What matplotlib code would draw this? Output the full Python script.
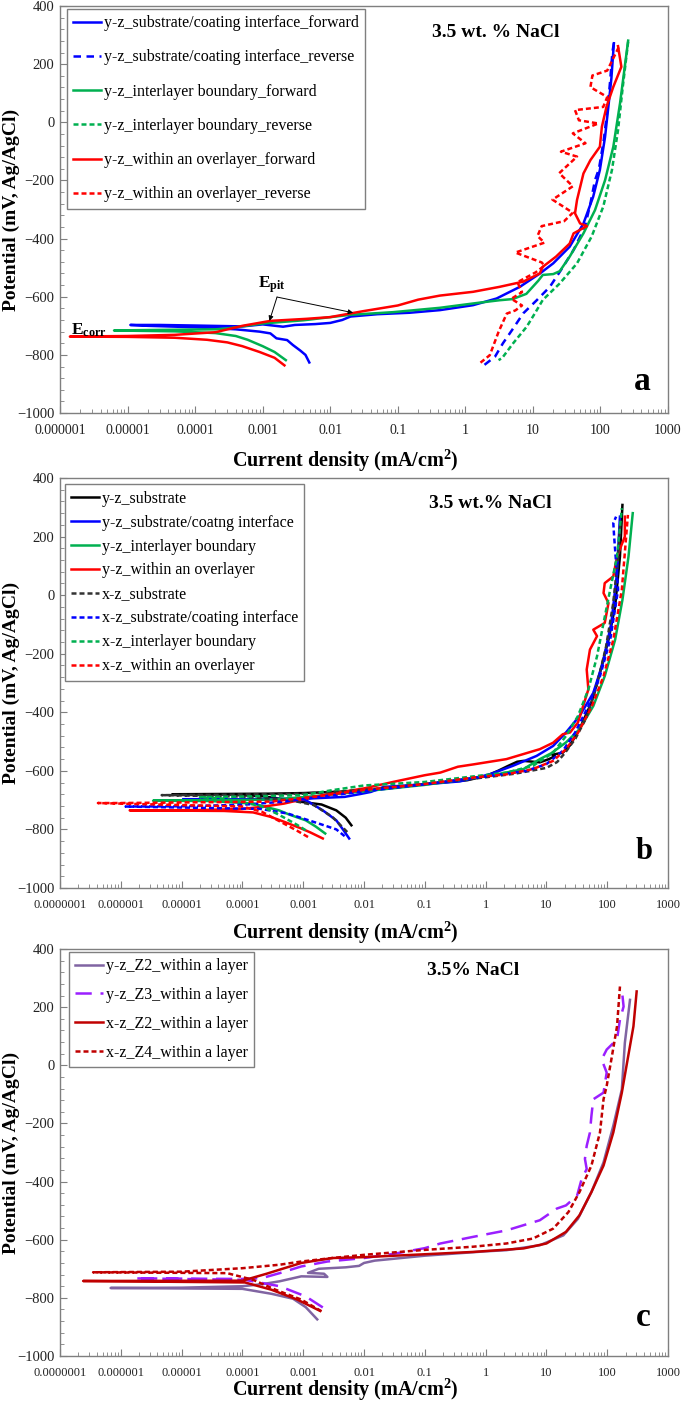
# polarization.py

import numpy as np
from matplotlib import pyplot as plt
from matplotlib.ticker import LogLocator, MultipleLocator, NullFormatter

# ---------------- panel a : y-z sections, forward / reverse scans ----------------
a_blue_fwd_i = [0.0049, 0.0043, 0.0036, 0.0028, 0.0023, 0.0016, 0.0013, 0.0009, 0.0004,
                0.0001, 2e-5, 1.1e-5, 3e-5, 1e-4, 5e-4, 0.001, 0.002, 0.003, 0.006, 0.01,
                0.015, 0.02, 0.05, 0.15, 0.42, 1.3, 2.9, 6.4, 12.7, 20, 35, 56, 78, 98,
                117, 131, 145, 158]
a_blue_fwd_e = [-826, -800, -785, -766, -749, -743, -726, -720, -712, -705, -700, -697,
                -697, -699, -702, -695, -703, -697, -694, -690, -680, -668, -660, -655,
                -646, -629, -606, -566, -520, -485, -428, -348, -256, -164, -50, 54, 150, 272]
a_blue_rev_i = [158, 150, 140, 128, 112, 95, 83, 71, 59, 40, 28, 17.8, 11.5, 7.2, 4.9,
                3.6, 2.75, 1.9]
a_blue_rev_e = [272, 240, 150, 50, -60, -160, -199, -279, -359, -439, -497, -566, -611,
                -657, -715, -760, -806, -835]
a_green_fwd_i = [0.0022, 0.0015, 0.001, 0.0006, 0.0004, 0.0002, 5e-5, 6.3e-6, 3e-5, 2e-4,
                 3e-4, 0.001, 0.004, 0.02, 0.085, 0.42, 0.83, 1.66, 3.2, 5.0, 8.0, 12, 14,
                 20, 25, 35, 56, 83, 117, 155, 195, 229, 257]
a_green_fwd_e = [-818, -790, -770, -748, -735, -725, -719, -716, -714, -712, -709, -692,
                 -681, -662, -653, -638, -629, -620, -612, -608, -590, -545, -525, -522,
                 -512, -462, -382, -302, -199, -84, 66, 191, 281]
a_green_rev_i = [257, 214, 182, 148, 110, 74, 45, 25, 14, 10.7, 8.1, 5.1, 3.5, 3.1]
a_green_rev_e = [277, 122, -27, -164, -290, -393, -485, -554, -611, -657, -703, -760,
                 -811, -818]
a_red_fwd_i = [0.0021, 0.0015, 0.0009, 0.0005, 0.0003, 0.00015, 5e-5, 1e-5, 1.4e-6, 1e-5,
               5e-5, 2e-4, 5e-4, 0.0013, 0.0044, 0.01, 0.03, 0.1, 0.2, 0.42, 1.3, 3.2, 7.2,
               12.6, 14, 22, 35, 40, 63, 50, 42, 45, 56, 71, 98, 105, 123, 155, 204, 182]
a_red_fwd_e = [-836, -810, -790, -770, -757, -748, -741, -738, -737, -735, -731, -722,
               -700, -683, -676, -670, -650, -630, -610, -596, -583, -566, -548, -520,
               -497, -462, -417, -382, -357, -348, -313, -267, -176, -130, -84, -15, 54,
               122, 191, 262]
a_red_rev_i = [186, 126, 76, 71, 126, 110, 42, 48, 93, 39, 60, 26, 45, 24.5, 39, 19.5,
               39, 29, 13.5, 11.7, 14.8, 5.5, 13.5, 14.8, 11, 5.9, 6.9, 4.8, 6.9, 5.5, 4.1,
               3.1, 2.3, 1.55]
a_red_rev_e = [258, 178, 161, 121, 87, 53, 42, 7, -4, -38, -72, -101, -118, -175, -220,
               -266, -311, -340, -357, -391, -414, -448, -482, -493, -516, -550, -584,
               -607, -630, -647, -658, -721, -801, -833]

# ---------------- panel b : y-z (solid) and x-z (dashed) sections ----------------
b_black_yz_i = [0.0062, 0.005, 0.0035, 0.0028, 0.002, 0.0011, 6e-4, 2e-4, 5e-5, 7e-6,
                5e-5, 3e-4, 0.001, 0.01, 0.1, 0.5, 1.0, 1.6, 2.3, 3.3, 4.2, 7.8, 11, 13.8,
                12.5, 18.6, 24, 35, 55, 76, 105, 135, 162, 178]
b_black_yz_e = [-786, -760, -735, -727, -715, -708, -700, -686, -681, -680, -679, -678,
                -676, -668, -645, -632, -618, -600, -584, -569, -566, -571, -560, -550,
                -545, -538, -515, -458, -367, -265, -152, -38, 132, 308]
b_blue_yz_i = [0.0057, 0.0045, 0.0035, 0.0021, 0.0011, 3e-4, 1.07e-5, 1e-4, 0.0011, 0.0048,
               0.0083, 0.013, 0.021, 0.1, 0.38, 1.17, 2.8, 6.9, 12.9, 21, 35, 59, 85, 117,
               145, 162]
b_blue_yz_e = [-831, -800, -769, -735, -700, -697, -697, -697, -695, -689, -680, -672,
               -655, -646, -636, -612, -583, -549, -515, -469, -413, -334, -231, -95, 76, 268]
b_green_yz_i = [0.0023, 0.0016, 0.0011, 6e-4, 4e-4, 1.5e-4, 3e-5, 3.4e-6, 3e-5, 3e-4, 0.001,
                0.01, 0.1, 1.17, 4.2, 7.8, 12, 21, 35, 59, 91, 135, 178, 224, 263]
b_green_yz_e = [-814, -790, -769, -750, -735, -712, -703, -702, -701, -698, -690, -670,
                -648, -617, -594, -560, -540, -503, -458, -379, -277, -152, -16, 132, 280]
b_red_yz_i = [0.0021, 0.0013, 9.3e-4, 5e-4, 2.9e-4, 1.5e-4, 5e-5, 1.4e-6, 2e-5, 1e-4,
              2.1e-4, 4.8e-4, 0.0011, 0.0029, 0.01, 0.03, 0.1, 0.18, 0.35, 0.63, 2.2, 7.8,
              12.9, 18.6, 24.5, 33, 49, 46, 52, 68, 59, 91, 105, 87, 91, 126, 145, 195, 195]
b_red_yz_e = [-831, -810, -797, -775, -757, -742, -737, -735, -734, -730, -723, -712, -695,
              -678, -660, -638, -615, -606, -586, -578, -560, -526, -504, -475, -469, -435,
              -322, -254, -186, -140, -118, -95, -27, 7, 41, 64, 132, 200, 268]
b_black_xz_i = [0.0053, 0.003, 0.0015, 6e-4, 1e-4, 4.7e-6, 5e-5, 0.001, 0.01, 0.1, 1, 3, 10,
                15, 20, 30, 45, 65, 95, 125, 150, 165]
b_black_xz_e = [-809, -757, -717, -700, -688, -683, -682, -678, -665, -645, -622, -610,
                -590, -570, -540, -490, -420, -320, -180, -30, 120, 255]
b_blue_xz_i = [0.0048, 0.0035, 0.0018, 5.6e-4, 2e-4, 1.2e-6, 1e-5, 1e-4, 5e-4, 0.002, 0.01,
               0.1, 1.17, 4.7, 10, 18.6, 29.5, 49, 76, 112, 151, 130, 126, 140]
b_blue_xz_e = [-823, -800, -780, -746, -730, -722, -721, -716, -705, -688, -670, -646,
               -617, -600, -577, -532, -470, -379, -277, -152, 19, 200, 246, 268]
b_green_xz_i = [0.0011, 8e-4, 4e-4, 2e-4, 5e-5, 2e-5, 1e-4, 0.001, 0.003, 0.01, 0.1, 0.63,
                2.2, 6, 12.9, 21, 33, 49, 68, 87, 112, 145, 174]
b_green_xz_e = [-803, -785, -750, -720, -695, -690, -688, -683, -666, -650, -638, -619,
                -606, -583, -538, -481, -413, -322, -209, -95, 19, 132, 297]
b_red_xz_i = [0.0012, 8e-4, 4.8e-4, 2.1e-4, 1e-4, 4.2e-7, 1e-6, 3e-4, 0.002, 0.01, 0.1,
              0.63, 2.2, 6, 12.9, 21, 33, 56, 87, 126, 174, 219]
b_red_xz_e = [-826, -805, -780, -740, -722, -710, -710, -705, -685, -665, -645, -623, -612,
              -594, -566, -526, -470, -379, -277, -152, 19, 274]

# ---------------- panel c : Z2 / Z3 / Z4 layers ----------------
c_yz_z2_i = [0.0017, 0.0011, 6.8e-4, 3e-4, 1e-4, 6.8e-7, 1e-5, 1e-4, 2.1e-4, 4.1e-4,
             9.3e-4, 0.0025, 0.0022, 0.0012, 0.0018, 0.005, 0.0083, 0.01, 0.015, 0.1, 1.0,
             2.2, 7.8, 19, 33, 55, 87, 126, 174, 195, 237]
c_yz_z2_e = [-874, -832, -803, -786, -769, -766, -765, -760, -753, -743, -726, -728, -717,
             -714, -700, -695, -690, -680, -672, -655, -640, -636, -619, -585, -528, -436,
             -334, -208, -83, 77, 225]
c_yz_z3_i = [0.0021, 0.0011, 4.1e-4, 1.1e-4, 1.7e-6, 1e-4, 2.1e-4, 4.1e-4, 9.3e-4, 0.0025,
             0.01, 0.03, 0.1, 0.18, 0.63, 2.2, 7.8, 14.8, 21, 32, 38, 46, 43, 46, 52, 55,
             59, 87, 98, 81, 98, 145, 162, 186, 173]
c_yz_z3_e = [-833, -795, -760, -738, -733, -735, -732, -715, -692, -675, -663, -649, -629,
             -613, -590, -568, -533, -493, -482, -448, -391, -357, -322, -277, -231, -174,
             -117, -94, -25, 20, 54, 89, 157, 202, 265]
c_xz_z2_i = [0.0019, 0.0008, 3e-4, 1.1e-4, 2.4e-7, 1e-4, 2.5e-4, 4.1e-4, 9.3e-4, 0.003,
             0.01, 0.1, 0.63, 4.2, 10, 21, 35, 55, 87, 126, 174, 212, 270, 305]
c_xz_z2_e = [-845, -806, -772, -747, -742, -741, -717, -703, -680, -663, -660, -650, -642,
             -630, -613, -573, -516, -436, -345, -231, -94, 9, 134, 254]
c_xz_z4_i = [0.002, 9.3e-4, 3.5e-4, 1.5e-4, 5.6e-5, 3.5e-7, 1e-5, 1e-4, 4.1e-4, 9.3e-4,
             0.003, 0.01, 0.1, 0.63, 2.2, 6, 12.9, 23, 35, 55, 76, 87, 98, 117, 145, 162]
c_xz_z4_e = [-846, -806, -772, -738, -715, -712, -710, -698, -686, -675, -663, -652, -635,
             -624, -613, -596, -562, -505, -436, -345, -231, -117, -71, 20, 134, 271]

# axis ticks
yticks = [-1000, -800, -600, -400, -200, 0, 200, 400]
xticks_a = [1e-6, 1e-5, 1e-4, 1e-3, 1e-2, 1e-1, 1, 10, 100, 1000]
xlabels_a = ["0.000001", "0.00001", "0.0001", "0.001", "0.01", "0.1", "1", "10", "100", "1000"]
xticks_bc = [1e-7] + xticks_a
xlabels_bc = ["0.0000001"] + xlabels_a

plt.rcParams['font.family'] = ['Liberation Serif', 'DejaVu Serif']
plt.rcParams['mathtext.fontset'] = 'custom'
plt.rcParams['mathtext.rm'] = 'Liberation Serif'
plt.rcParams['mathtext.bf'] = 'Liberation Serif:bold'
plt.rcParams['mathtext.it'] = 'Liberation Serif:italic'

BLUE = "#0000FF"
GREEN = "#00B050"
RED = "#FF0000"
FRAME = "#7F7F7F"

SHORT = (0, (2.0, 1.2))
MED = (0, (3.0, 2.2))
LONG = (0, (6.5, 3.5))


def style_axes(ax, xlim, xticks, xlabels, xsize, xlab_y):
    ax.set_xscale("log")
    ax.set_xlim(*xlim)
    ax.set_ylim(-1000, 400)
    ax.set_xticks(xticks, xlabels)
    ax.xaxis.set_minor_locator(LogLocator(base=10, subs=np.arange(2, 10), numticks=100))
    ax.xaxis.set_minor_formatter(NullFormatter())
    ax.set_yticks(yticks)
    ax.yaxis.set_minor_locator(MultipleLocator(40))
    ax.tick_params(which="both", direction="in", color=FRAME, labelcolor="#222222")
    ax.tick_params(which="major", length=5, width=0.8)
    ax.tick_params(which="minor", length=3, width=0.6)
    ax.tick_params(axis="x", pad=8, labelsize=xsize)
    ax.tick_params(axis="y", pad=4, labelsize=10.5)
    for s in ax.spines.values():
        s.set_color(FRAME)
        s.set_linewidth(1.0)
    ax.set_xlabel(r"Current density (mA/cm$^{\mathbf{2}}$)", fontsize=14.5, fontweight="bold")
    ax.set_ylabel("Potential (mV, Ag/AgCl)", fontsize=14, fontweight="bold")
    ax.xaxis.set_label_coords(0.47, xlab_y)
    ax.yaxis.set_label_coords(-0.066, 0.5)


def add_legend(ax, anchor, spacing):
    leg = ax.legend(loc="upper left", bbox_to_anchor=anchor, borderaxespad=0,
                    fontsize=11.5, labelspacing=spacing, handlelength=1.75,
                    handletextpad=0.15, borderpad=0.4, fancybox=False,
                    framealpha=1, edgecolor=FRAME)
    leg.get_frame().set_linewidth(1.0)


def main():
    fig = plt.figure(figsize=(6.85, 14.03), dpi=100)
    ax_a = fig.add_axes([0.0876, 0.7056, 0.8876, 0.2901])
    ax_b = fig.add_axes([0.0876, 0.3671, 0.8876, 0.2922])
    ax_c = fig.add_axes([0.0876, 0.0335, 0.8876, 0.2901])

    lw = 1.8

    # panel a
    ax_a.plot(a_blue_fwd_i, a_blue_fwd_e, color=BLUE, lw=lw,
              label="y-z_substrate/coating interface_forward")
    ax_a.plot(a_blue_rev_i, a_blue_rev_e, color=BLUE, lw=lw, ls=MED,
              label="y-z_substrate/coating interface_reverse")
    ax_a.plot(a_green_fwd_i, a_green_fwd_e, color=GREEN, lw=lw,
              label="y-z_interlayer boundary_forward")
    ax_a.plot(a_green_rev_i, a_green_rev_e, color=GREEN, lw=lw, ls=SHORT,
              label="y-z_interlayer boundary_reverse")
    ax_a.plot(a_red_fwd_i, a_red_fwd_e, color=RED, lw=lw,
              label="y-z_within an overlayer_forward")
    ax_a.plot(a_red_rev_i, a_red_rev_e, color=RED, lw=lw, ls=SHORT,
              label="y-z_within an overlayer_reverse")
    style_axes(ax_a, (1e-6, 1e3), xticks_a, xlabels_a, 10, -0.085)
    add_legend(ax_a, (0.0115, 0.993), 1.14)
    ax_a.text(0.716, 0.936, "3.5 wt. % NaCl", transform=ax_a.transAxes, fontsize=14,
              fontweight="bold", ha="center", va="center")
    ax_a.text(0.957, 0.057, "a", transform=ax_a.transAxes, fontsize=24,
              fontweight="bold", ha="center", va="baseline")
    ax_a.text(1.45e-6, -715, r"$\mathbf{E_{corr}}$", fontsize=12.5, ha="left", va="center")
    ax_a.text(0.00135, -560, r"$\mathbf{E_{pit}}$", fontsize=12.5, ha="center", va="center")
    for tip in [(0.00126, -683), (0.0218, -655)]:
        ax_a.annotate("", xy=tip, xytext=(0.00163, -601),
                      arrowprops=dict(arrowstyle="-|>", color="black", lw=0.7,
                                      mutation_scale=7, shrinkA=0, shrinkB=0))

    # panel b
    ax_b.plot(b_black_yz_i, b_black_yz_e, color="black", lw=lw, label="y-z_substrate")
    ax_b.plot(b_blue_yz_i, b_blue_yz_e, color=BLUE, lw=lw,
              label="y-z_substrate/coatng interface")
    ax_b.plot(b_green_yz_i, b_green_yz_e, color=GREEN, lw=lw, label="y-z_interlayer boundary")
    ax_b.plot(b_red_yz_i, b_red_yz_e, color=RED, lw=lw, label="y-z_within an overlayer")
    ax_b.plot(b_black_xz_i, b_black_xz_e, color="#333333", lw=lw, ls=SHORT,
              label="x-z_substrate")
    ax_b.plot(b_blue_xz_i, b_blue_xz_e, color=BLUE, lw=lw, ls=SHORT,
              label="x-z_substrate/coating interface")
    ax_b.plot(b_green_xz_i, b_green_xz_e, color=GREEN, lw=lw, ls=SHORT,
              label="x-z_interlayer boundary")
    ax_b.plot(b_red_xz_i, b_red_xz_e, color=RED, lw=lw, ls=SHORT,
              label="x-z_within an overlayer")
    style_axes(ax_b, (1e-7, 1e3), xticks_bc, xlabels_bc, 9, -0.077)
    add_legend(ax_b, (0.008, 0.985), 0.50)
    ax_b.text(0.707, 0.938, "3.5 wt.% NaCl", transform=ax_b.transAxes, fontsize=14,
              fontweight="bold", ha="center", va="center")
    ax_b.text(0.96, 0.07, "b", transform=ax_b.transAxes, fontsize=22,
              fontweight="bold", ha="center", va="baseline")

    # panel c
    ax_c.plot(c_yz_z2_i, c_yz_z2_e, color="#8064A2", lw=lw, label="y-z_Z2_within a layer")
    ax_c.plot(c_yz_z3_i, c_yz_z3_e, color="#9B1FFF", lw=lw, ls=LONG,
              label="y-z_Z3_within a layer")
    ax_c.plot(c_xz_z2_i, c_xz_z2_e, color="#C00000", lw=lw, label="x-z_Z2_within a layer")
    ax_c.plot(c_xz_z4_i, c_xz_z4_e, color="#C00000", lw=lw, ls=SHORT,
              label="x-z_Z4_within a layer")
    style_axes(ax_c, (1e-7, 1e3), xticks_bc, xlabels_bc, 9, -0.052)
    add_legend(ax_c, (0.0148, 0.993), 0.8)
    ax_c.text(0.68, 0.946, "3.5% NaCl", transform=ax_c.transAxes, fontsize=14,
              fontweight="bold", ha="center", va="center")
    ax_c.text(0.96, 0.073, "c", transform=ax_c.transAxes, fontsize=24,
              fontweight="bold", ha="center", va="baseline")

    plt.savefig("out.png", dpi=100)


if __name__ == "__main__":
    main()
